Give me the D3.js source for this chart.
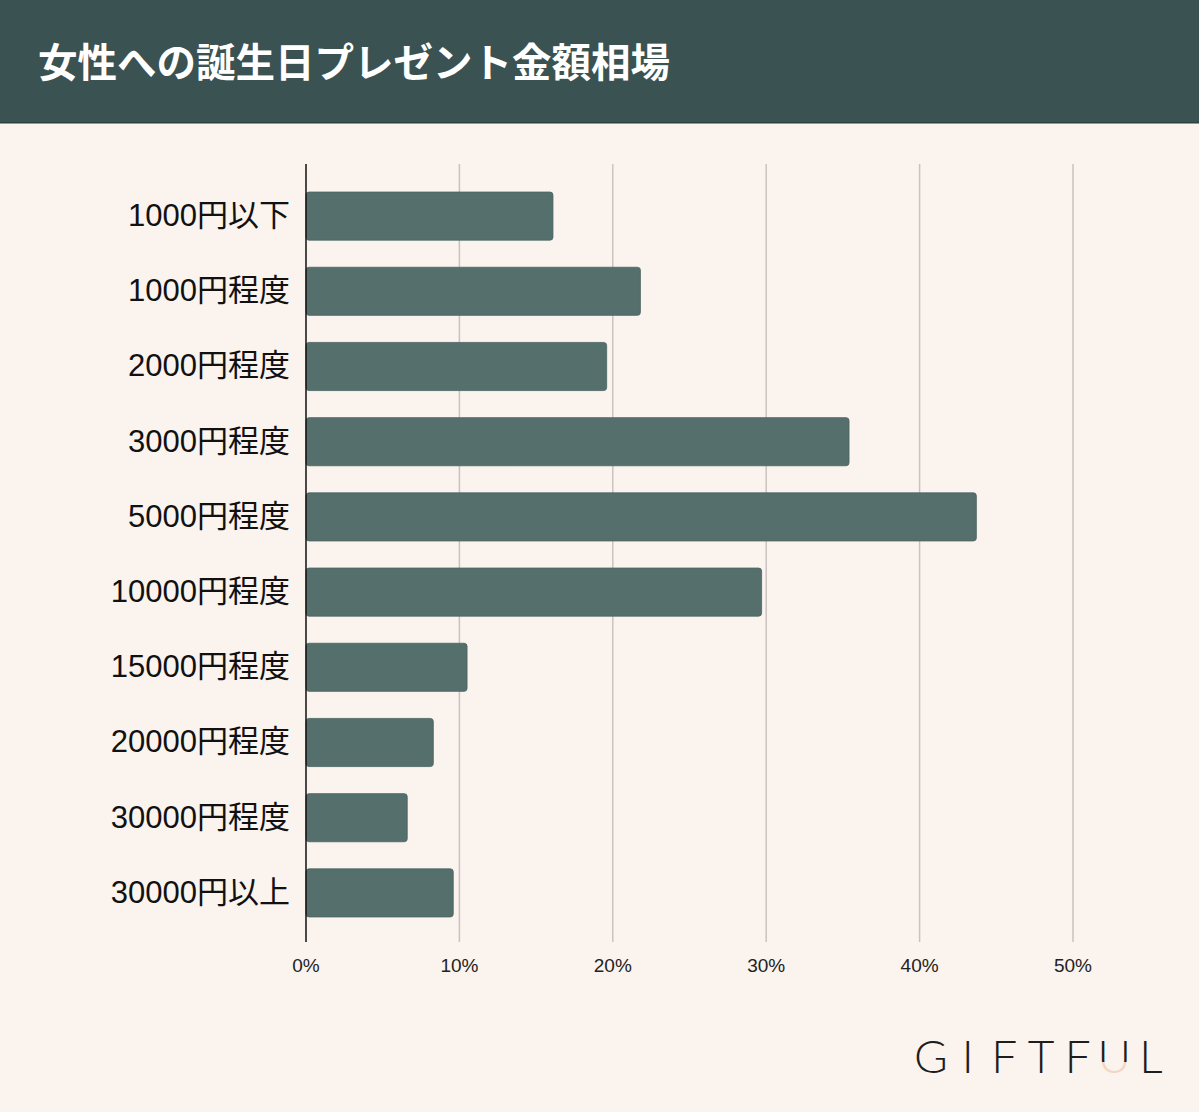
<!DOCTYPE html>
<html>
<head>
<meta charset="utf-8">
<script src="https://cdn.jsdelivr.net/npm/d3@7"></script>
<style>
  body { margin: 0; background: #fbf3ee; }
  svg { display: block; }
</style>
</head>
<body>
<svg width="1199" height="1112"></svg>
<script>
// data
var categories = ['1000円以下', '1000円程度', '2000円程度', '3000円程度', '5000円程度',
                  '10000円程度', '15000円程度', '20000円程度', '30000円程度', '30000円以上'];
var values = [16.1, 21.8, 19.6, 35.4, 43.7, 29.7, 10.5, 8.3, 6.6, 9.6];
var ticks = [0, 10, 20, 30, 40, 50];
var logoLetters = ['G', 'I', 'F', 'T', 'F', 'U', 'L'];

var svg = d3.select('svg');

// background + header band
svg.append('rect').attr('width', 1199).attr('height', 1112).attr('fill', '#fbf3ee');
svg.append('rect').attr('width', 1199).attr('height', 123).attr('fill', '#3a5251');
svg.append('rect').attr('y', 122).attr('width', 1199).attr('height', 1.5).attr('fill', '#2c403f');

svg.append('text')
    .text('女性への誕生日プレゼント金額相場')
    .attr('x', 38).attr('y', 77)
    .attr('font-family', '"Noto Sans CJK JP", sans-serif')
    .attr('font-weight', 'bold')
    .attr('font-size', 39.5)
    .attr('fill', '#ffffff');

//scales
var scaleX = d3.scaleLinear().domain([0, 50]).range([306, 1073]);
var scaleY = d3.scaleBand().domain(categories).range([178.5, 930.5])
    .paddingInner(0.36).paddingOuter(0.18);

var plotTop = 164, plotBottom = 942;

// grid lines
svg.append('g').selectAll('line')
    .data(ticks.filter(function(t){ return t > 0; }))
    .enter().append('line')
    .attr('x1', function(d){ return scaleX(d); })
    .attr('x2', function(d){ return scaleX(d); })
    .attr('y1', plotTop).attr('y2', plotBottom)
    .attr('stroke', '#cbc2c0')
    .attr('stroke-width', 1.5);

// bars
svg.append('g').selectAll('rect')
    .data(values)
    .enter().append('rect')
    .attr('x', scaleX(0))
    .attr('y', function(d, i){ return scaleY(categories[i]); })
    .attr('width', function(d){ return scaleX(d) - scaleX(0); })
    .attr('height', scaleY.bandwidth())
    .attr('rx', 3)
    .attr('fill', '#546f6c')
    .attr('stroke', '#4a6462')
    .attr('stroke-width', 0.8);

// y axis line
svg.append('line')
    .attr('x1', scaleX(0)).attr('x2', scaleX(0))
    .attr('y1', plotTop).attr('y2', plotBottom)
    .attr('stroke', '#111').attr('stroke-width', 1.5);

// category labels
svg.append('g').selectAll('text')
    .data(categories)
    .enter().append('text')
    .text(function(d){ return d; })
    .attr('x', 290)
    .attr('y', function(d){ return scaleY(d) + scaleY.bandwidth() / 2; })
    .attr('dy', '0.32em')
    .attr('text-anchor', 'end')
    .attr('font-family', '"Liberation Sans", "Noto Sans CJK JP", sans-serif')
    .attr('font-size', 31)
    .attr('fill', '#111');

// x tick labels
svg.append('g').selectAll('text')
    .data(ticks)
    .enter().append('text')
    .text(function(d){ return d + '%'; })
    .attr('x', function(d){ return scaleX(d); })
    .attr('y', 972)
    .attr('text-anchor', 'middle')
    .attr('font-family', '"Liberation Sans", Arial, sans-serif')
    .attr('font-size', 19)
    .attr('fill', '#222');

// logo
var logoX = d3.scalePoint().domain(d3.range(logoLetters.length)).range([931, 1151]);
var defs = svg.append('defs');
defs.append('clipPath').attr('id', 'uTop')
    .append('rect').attr('x', 1080).attr('y', 1020).attr('width', 60).attr('height', 42);
defs.append('clipPath').attr('id', 'uBot')
    .append('rect').attr('x', 1080).attr('y', 1062).attr('width', 60).attr('height', 30);

var logo = svg.append('g')
    .attr('font-family', 'Lato, "DejaVu Sans", sans-serif')
    .attr('font-weight', 300)
    .attr('font-size', 46)
    .attr('text-anchor', 'middle');

logo.selectAll('text.l')
    .data(logoLetters)
    .enter().append('text')
    .attr('class', 'l')
    .text(function(d){ return d; })
    .attr('x', function(d, i){ return logoX(i); })
    .attr('y', 1073)
    .attr('fill', '#1d1d1d')
    .attr('clip-path', function(d, i){ return i == 5 ? 'url(#uTop)' : null; });

logo.append('text')
    .text(logoLetters[5])
    .attr('x', logoX(5)).attr('y', 1073)
    .attr('fill', '#f3d6c0')
    .attr('clip-path', 'url(#uBot)');
</script>
</body>
</html>
